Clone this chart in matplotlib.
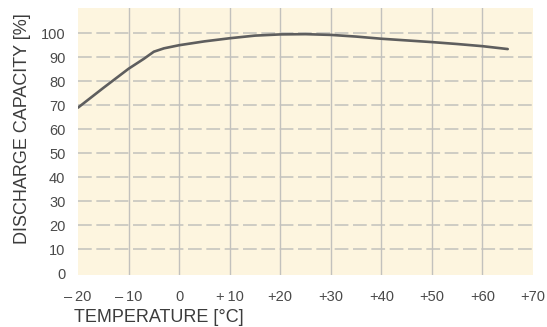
import matplotlib.pyplot as plt
import numpy as np

plt.rcParams["font.family"] = ["Liberation Sans", "DejaVu Sans"]

# discharge capacity vs temperature
temperature = [-20, -15, -10, -7, -5, -3, 0, 5, 10, 15, 20, 25, 30, 35, 40, 45, 50, 55, 60, 65]
capacity = [69, 77.2, 85.2, 89.3, 92.3, 93.7, 95.0, 96.6, 97.9, 99.0, 99.5, 99.6, 99.3, 98.6, 97.7, 97.0, 96.3, 95.5, 94.6, 93.4]

x_ticks = [-20, -10, 0, 10, 20, 30, 40, 50, 60, 70]
x_tick_labels = ["\u2013\u200920", "\u2013\u200910", "0", "+\u200910", "+20", "+30", "+40", "+50", "+60", "+70"]
y_ticks = [0, 10, 20, 30, 40, 50, 60, 70, 80, 90, 100]

TEXT_COLOR = "#3c3c3c"
TICK_COLOR = "#4a4a4a"
GRID_COLOR = "#c2c1bd"


def main():
    fig = plt.figure(figsize=(5.47, 3.27), dpi=100)
    ax = fig.add_axes([78 / 547, 1 - 275 / 327, 455 / 547, 267 / 327])
    ax.set_facecolor("#fdf5df")

    ax.set_xlim(-20, 70)
    ax.set_ylim(-0.7, 110.5)

    for t in x_ticks[1:-1]:
        ax.axvline(t, color=GRID_COLOR, linewidth=1.0, zorder=1)
    for v in y_ticks[1:]:
        ax.axhline(v, color=GRID_COLOR, linewidth=1.1, dashes=(9, 3), zorder=1)

    ax.plot(temperature, capacity, color="#5e5e5e", linewidth=1.9, zorder=3,
            solid_capstyle="round", solid_joinstyle="round")

    for side in ax.spines.values():
        side.set_visible(False)

    ax.set_xticks(x_ticks)
    ax.set_xticklabels(x_tick_labels)
    ax.set_yticks(y_ticks)
    ax.tick_params(length=0, labelsize=10.5, labelcolor=TICK_COLOR)
    ax.tick_params(axis="x", pad=11)
    ax.tick_params(axis="y", pad=9)

    fig.text(74 / 547, 1 - 322 / 327, "TEMPERATURE [\u00b0C]", fontsize=13,
             color=TEXT_COLOR, ha="left", va="baseline")
    fig.text(23 / 547, 1 - 129 / 327, "DISCHARGE CAPACITY [%]", fontsize=13,
             color=TEXT_COLOR, ha="center", va="center", rotation=90)

    fig.savefig("out.png", dpi=100)
    plt.close(fig)


if __name__ == "__main__":
    main()
